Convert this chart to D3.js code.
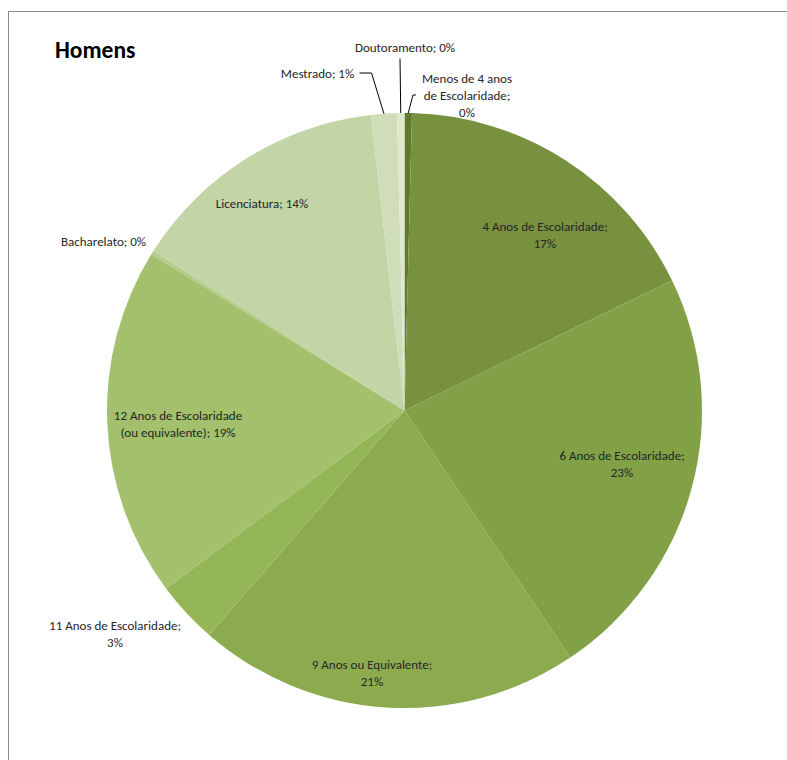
<html lang="pt">
<head>
<meta charset="UTF-8">
<title>Homens</title>
<script src="https://d3js.org/d3.v7.min.js"></script>
<style>
  body { margin: 0; background: #fff; }
  text { font-family: Carlito, Calibri, Lato, "Open Sans", sans-serif; }
</style>
</head>
<body>
<div id="chart"></div>
<script>
// data (share of total, %)
const categories = [
  "Menos de 4 anos de Escolaridade",
  "4 Anos de Escolaridade",
  "6 Anos de Escolaridade",
  "9 Anos ou Equivalente",
  "11 Anos de Escolaridade",
  "12 Anos de Escolaridade (ou equivalente)",
  "Bacharelato",
  "Licenciatura",
  "Mestrado",
  "Doutoramento"
];
const values = [0.4, 17.4, 22.8, 20.8, 3.4, 19.0, 0.2, 14.2, 1.4, 0.4];
const colors = ["#5f7a2f", "#77913f", "#82a046", "#8cab4f", "#95b657", "#a3c06c",
                "#b3cc8c", "#c3d4a6", "#d0ddb9", "#dde7cc"];
// label text lines ({p} = rounded percentage)
const labelLines = [
  ["Menos de 4 anos", "de Escolaridade;", "{p}%"],
  ["4 Anos de Escolaridade;", "{p}%"],
  ["6 Anos de Escolaridade;", "{p}%"],
  ["9 Anos ou Equivalente;", "{p}%"],
  ["11 Anos de Escolaridade;", "{p}%"],
  ["12 Anos de Escolaridade", "(ou equivalente); {p}%"],
  ["Bacharelato; {p}%"],
  ["Licenciatura; {p}%"],
  ["Mestrado; {p}%"],
  ["Doutoramento; {p}%"]
];

// layout
const W = 787, H = 760;
const cx = 404.5, cy = 410.5, R = 297.5;
const lineH = 17;
// label centre offsets from pie centre
const labelOffset = [
  [62.5, -315.5], [140.5, -175.5], [217.5, 53.5], [-32.5, 262.5], [-289.5, 223.5],
  [-226.5, 13.5], [-301, -169], [-142.5, -207], [-87, -337], [0.5, -363]
];
// leader lines (start points relative to pie centre, then to arc)
const leaders = {
  0: [[11.5, -315.5], [8.5, -315.5]],
  8: [[-45, -337.5], [-33, -337.5]],
  9: [[-4.5, -352]]
};

const svg = d3.select("#chart").append("svg")
  .attr("width", W)
  .attr("height", H);

svg.append("rect")
  .attr("x", 8.5).attr("y", 11.5)
  .attr("width", W + 20).attr("height", H + 20)
  .attr("fill", "none")
  .attr("stroke", "#8a8a8a");

svg.append("text")
  .attr("x", 55).attr("y", 58)
  .attr("font-size", 23.5)
  .attr("font-weight", "bold")
  .attr("fill", "#000")
  .text("Homens");

const total = d3.sum(values);
const pie = d3.pie().sort(null).value(d => d)(values);
const arc = d3.arc().innerRadius(0).outerRadius(R);

const g = svg.append("g").attr("transform", `translate(${cx},${cy})`);

g.selectAll("path")
  .data(pie)
  .join("path")
  .attr("d", arc)
  .attr("fill", (d, i) => colors[i]);

// leader lines
Object.keys(leaders).forEach(k => {
  const d = pie[k];
  const mid = (d.startAngle + d.endAngle) / 2;
  const end = [Math.sin(mid) * R, -Math.cos(mid) * R];
  const pts = leaders[k].concat([end]);
  g.append("path")
    .attr("d", d3.line()(pts))
    .attr("fill", "none")
    .attr("stroke", "#000")
    .attr("stroke-width", 1);
});

// labels
pie.forEach((d, i) => {
  const p = Math.round(values[i] / total * 100);
  const lines = labelLines[i].map(s => s.replace("{p}", p));
  const [ox, oy] = labelOffset[i];
  const t = g.append("text")
    .attr("text-anchor", "middle")
    .attr("font-size", 13)
    .attr("fill", "#262626");
  lines.forEach((s, j) => {
    t.append("tspan")
      .attr("x", ox)
      .attr("y", oy + (j - (lines.length - 1) / 2) * lineH + 4.5)
      .text(s);
  });
});
</script>
</body>
</html>
